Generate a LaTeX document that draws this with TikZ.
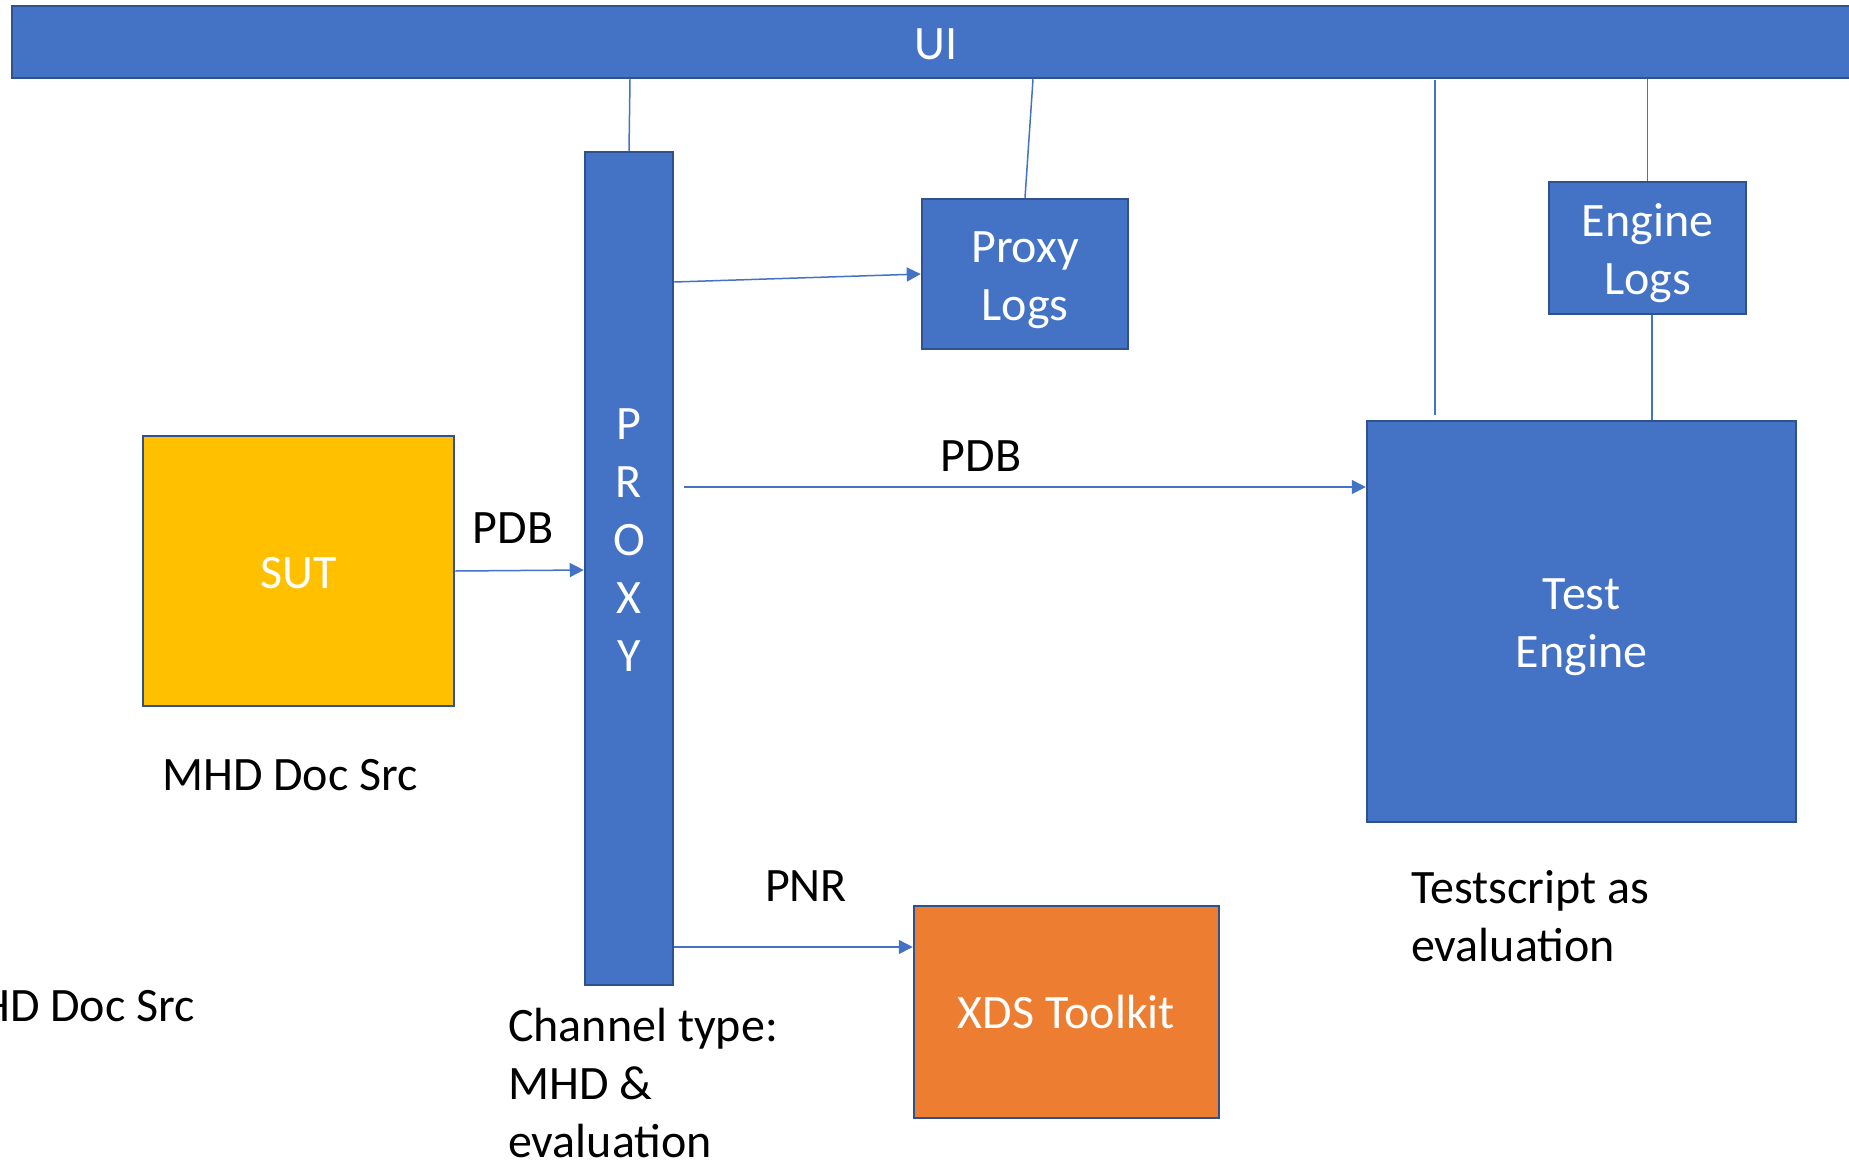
\documentclass[tikz,border=0pt]{standalone}
\usepackage{fontspec}
\setmainfont{Carlito}
\usetikzlibrary{arrows.meta,calc}
\definecolor{boxblue}{HTML}{4472C4}
\definecolor{boxedge}{HTML}{2F528F}
\definecolor{sutyellow}{HTML}{FFC000}
\definecolor{xdsorange}{HTML}{ED7D31}
\begin{document}
\begin{tikzpicture}[x=1pt,y=-1pt,
  every node/.style={font=\fontsize{48}{58}\selectfont},
  bluebox/.style={draw=boxedge,line width=2.5pt,fill=boxblue,inner sep=0pt},
  sutbox/.style={draw=boxedge,line width=2.5pt,fill=sutyellow,inner sep=0pt},
  xdsbox/.style={draw=boxedge,line width=2.5pt,fill=xdsorange,inner sep=0pt},
  boxtext/.style={text=white,inner sep=0pt,align=center},
  link/.style={draw=boxblue,line width=1.5pt},
  arrowlink/.style={link,-{Triangle[length=14pt,width=14pt]}},
  plain/.style={text=black,inner sep=0pt,align=left}
]
\useasboundingbox (0,0) rectangle (1849,1162);
\fill[white] (0,0) rectangle (1849,1162);

% boxes
\node[bluebox,minimum width=1848pt,minimum height=72pt] (ui) at (936,42) {};
\node[bluebox,minimum width=88pt,minimum height=833pt] (proxy) at (629,568.5) {};
\node[bluebox,minimum width=206pt,minimum height=150pt] (plogs) at (1025,274) {};
\node[bluebox,minimum width=197pt,minimum height=132pt] (elogs) at (1647.5,248) {};
\node[bluebox,minimum width=429pt,minimum height=401pt] (engine) at (1581.5,621.5) {};
\node[sutbox,minimum width=311pt,minimum height=270pt] (sut) at (298.5,571) {};
\node[xdsbox,minimum width=305pt,minimum height=212pt] (xds) at (1066.5,1012) {};

% box texts
\node[boxtext] (uit) at ($(ui.center)+(0,2)$) {UI};
\node[boxtext] (proxyt) at ($(proxy.center)+(0,-28)$) {P\\R\\O\\X\\Y};
\node[boxtext] (plogst) at ($(plogs.center)+(0,6)$) {Proxy\\Logs};
\node[boxtext] (elogst) at ($(elogs.center)+(0,5)$) {Engine\\Logs};
\node[boxtext] (enginet) at ($(engine.center)+(0,6)$) {Test\\Engine};
\node[boxtext] (sutt) at ($(sut.center)+(0,2)$) {SUT};
\node[boxtext] (xdst) at (xds.center) {XDS Toolkit};

% free coordinates
\coordinate (uitap) at (1435,80);
\coordinate (uitapend) at (1435,415);
\coordinate (pdbstart) at (684,487);

% connectors to UI
\draw[link] (ui.south -| 630,0) -- (proxy.north);
\draw[link] (ui.south -| 1033,0) -- (plogs.north);
\draw[link] (ui.south -| elogs.north) -- (elogs.north);
\draw[link] (elogs.south -| 1652,0) -- (engine.north -| 1652,0);
\draw[link] (uitap) -- (uitapend);

% arrows
\draw[arrowlink] (sut.east) -- (proxy.west |- 0,570);
\draw[arrowlink] (proxy.east |- 0,282) -- (plogs.west);
\draw[arrowlink] (pdbstart) -- (engine.west |- pdbstart);
\draw[arrowlink] (proxy.east |- 0,947) -- (xds.west |- 0,947);

% labels
\node[plain] (l1) at (513,528) {PDB};
\node[plain] (l2) at (981,456) {PDB};
\node[plain] (l3) at (806,886) {PNR};
\node[plain] (mhd) at (290,775) {MHD Doc Src};
\node[plain,anchor=east] (mhd2) at (195,1006) {MHD Doc Src};
\node[plain,anchor=north west] (chan) at (508,1008) {Channel type:\\MHD \&\\evaluation};
\node[plain,anchor=north west] (ts) at (1411,870) {Testscript as\\evaluation};
\end{tikzpicture}
\end{document}
